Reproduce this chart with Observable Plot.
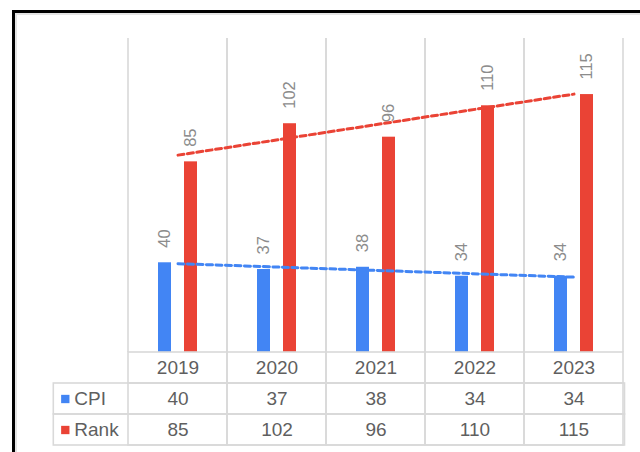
<!DOCTYPE html>
<html>
<head>
<meta charset="utf-8">
<script src="https://cdn.jsdelivr.net/npm/d3@7"></script>
<script src="https://cdn.jsdelivr.net/npm/@observablehq/plot@0.6"></script>
<style>
  html, body { margin: 0; padding: 0; background: #fff; }
  #wrap { position: relative; width: 640px; height: 452px; overflow: hidden; background: #fff;
          font-family: "Liberation Sans", Arial, sans-serif; }
  #wrap svg { display: block; }
  #frame { position: absolute; left: 12px; top: 10px; width: 900px; height: 900px;
           border: 3px solid #000; box-shadow: inset 2px 2px 0 #e4e4e4; pointer-events: none; z-index: 5; }
  #table { margin-top: -2px; }
</style>
</head>
<body>
<div id="wrap"><div id="frame"></div></div>
<script>
const years = ["2019", "2020", "2021", "2022", "2023"];
const seriesNames = ["CPI", "Rank"];
const cpi = [40, 37, 38, 34, 34];
const rank = [85, 102, 96, 110, 115];
const seriesColors = ["#4285f4", "#ea4335"];
const yDomain = [0, 140];

const cpiRows = years.map((year, i) => ({year, series: "CPI", value: cpi[i]}));
const rankRows = years.map((year, i) => ({year, series: "Rank", value: rank[i]}));
const valueRows = cpiRows.concat(rankRows);
const tableCells = ["year", ...seriesNames].flatMap(row => years.map(year => ({year, row})));

const font = '"Liberation Sans", Arial, sans-serif';
const gridColor = "#d9d9d9";
const gridWidth = 1.6;
const xRange = [127.3, 624.5];

const chart = Plot.plot({
  width: 640, height: 352,
  marginLeft: 120, marginRight: 10, marginTop: 38, marginBottom: 0,
  style: {background: "transparent", fontFamily: font},
  x: {domain: years, range: xRange, padding: 0, axis: null},
  y: {domain: yDomain, axis: null},
  color: {domain: seriesNames, range: seriesColors},
  marks: [
    Plot.cell(years, {x: d => d, fill: "none", stroke: gridColor, strokeWidth: gridWidth, insetTop: -6, insetBottom: -6, clip: true}),
    Plot.barY(cpiRows, {x: "year", y: "value", fill: "series", insetLeft: 30, insetRight: 56}),
    Plot.barY(rankRows, {x: "year", y: "value", fill: "series", insetLeft: 56, insetRight: 30}),
    Plot.text(cpiRows, {x: "year", y: "value", text: "value", rotate: -90, textAnchor: "start", dx: -13, dy: -15, fill: "#8c8c8c", fontSize: 16.5}),
    Plot.text(rankRows, {x: "year", y: "value", text: "value", rotate: -90, textAnchor: "start", dx: 13, dy: -15, fill: "#8c8c8c", fontSize: 16.5}),
    Plot.linearRegressionY(cpiRows, {x: "year", y: "value", stroke: "series", ci: 0, strokeWidth: 3, strokeDasharray: "6,3.5"}),
    Plot.linearRegressionY(rankRows, {x: "year", y: "value", stroke: "series", ci: 0, strokeWidth: 3, strokeDasharray: "6,3.5"})
  ]
});

const table = Plot.plot({
  width: 640, height: 102,
  marginLeft: 53.3, marginRight: 15.5, marginTop: 2, marginBottom: 7,
  style: {background: "transparent", fontFamily: font},
  x: {domain: years, range: xRange, padding: 0, axis: null},
  y: {domain: ["year", ...seriesNames], padding: 0, axis: null},
  color: {domain: seriesNames, range: seriesColors},
  marks: [
    Plot.cell(tableCells, {x: "year", y: "row", fill: "none", stroke: gridColor, strokeWidth: gridWidth}),
    Plot.cell(seriesNames, {y: d => d, fill: "none", stroke: gridColor, strokeWidth: gridWidth}),
    Plot.text(years, {x: d => d, y: () => "year", text: d => d, fill: "#5f5f5f", fontSize: 19}),
    Plot.text(valueRows, {x: "year", y: "series", text: "value", fill: "#5f5f5f", fontSize: 19}),
    Plot.dot(seriesNames, {y: d => d, frameAnchor: "left", dx: 11.5, symbol: "square", r: 4.7, fill: d => d}),
    Plot.text(seriesNames, {y: d => d, text: d => d, frameAnchor: "left", dx: 20.5, textAnchor: "start", fill: "#5f5f5f", fontSize: 19})
  ]
});
table.id = "table";

const wrap = document.getElementById("wrap");
wrap.appendChild(chart);
wrap.appendChild(table);
</script>
</body>
</html>
